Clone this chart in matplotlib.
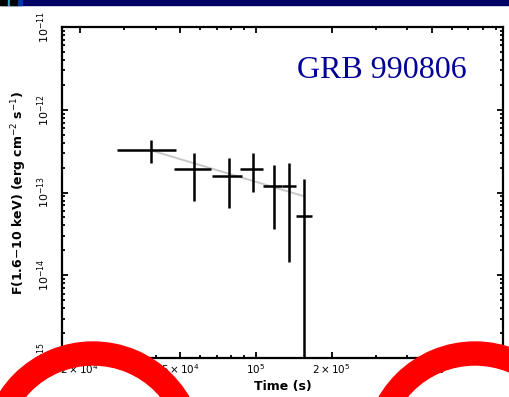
"""GRB 990806 X-ray afterglow light curve, slide-style rendering."""

import matplotlib

matplotlib.use("Agg")
import matplotlib.pyplot as plt
import numpy as np
from matplotlib.patches import Rectangle, Wedge
from matplotlib.ticker import FixedFormatter, FixedLocator, LogLocator, NullFormatter

# light curve bins (time in s, flux in erg cm^-2 s^-1)
t_mid = [3.83e4, 5.67e4, 7.81e4, 9.73e4, 1.18e5, 1.35e5, 1.56e5]
t_lo = [2.81e4, 4.73e4, 6.69e4, 8.64e4, 1.07e5, 1.27e5, 1.45e5]
t_hi = [4.82e4, 6.63e4, 8.80e4, 1.07e5, 1.27e5, 1.45e5, 1.68e5]
flux = [3.26e-13, 1.92e-13, 1.58e-13, 1.92e-13, 1.20e-13, 1.20e-13, 5.2e-14]
flux_hi = [4.3e-13, 3.0e-13, 2.6e-13, 3.0e-13, 2.15e-13, 2.3e-13, 1.46e-13]
flux_lo = [2.28e-13, 7.9e-14, 6.5e-14, 1.01e-13, 3.6e-14, 1.44e-14, 1e-16]

# power-law fit endpoints
fit_t = [3.9e4, 1.54e5]
fit_f = [3.18e-13, 9.1e-14]

xtick_values = [2e4, 5e4, 1e5, 2e5, 5e5, 1e6]
xtick_labels = [r"$2\times10^4$", r"$5\times10^4$", r"$10^5$",
                r"$2\times10^5$", r"$5\times10^5$", r"$10^6$"]
ytick_values = [1e-15, 1e-14, 1e-13, 1e-12, 1e-11]
ytick_labels = [r"$10^{-15}$", r"$10^{-14}$", r"$10^{-13}$", r"$10^{-12}$", r"$10^{-11}$"]

title = "GRB 990806"

W, H = 510, 397
fig = plt.figure(figsize=(W / 100, H / 100), dpi=100)
ax = fig.add_axes([62 / W, 1 - 358 / H, 441 / W, 331 / H])

t_mid = np.array(t_mid)
flux = np.array(flux)
xerr = [t_mid - np.array(t_lo), np.array(t_hi) - t_mid]
yerr = [flux - np.array(flux_lo), np.array(flux_hi) - flux]

ax.plot(fit_t, fit_f, color="#c8c8c8", lw=1.4, zorder=1)
ax.errorbar(t_mid, flux, xerr=xerr, yerr=yerr, fmt="none", ecolor="black",
            elinewidth=1.8, capsize=0, zorder=2)

ax.set_xscale("log")
ax.set_yscale("log")
ax.set_xlim(1.7e4, 9.6e5)
ax.set_ylim(1e-15, 1e-11)

ax.xaxis.set_major_locator(FixedLocator(xtick_values))
ax.xaxis.set_major_formatter(FixedFormatter(xtick_labels))
ax.xaxis.set_minor_locator(LogLocator(base=10, subs=np.arange(2, 10), numticks=20))
ax.xaxis.set_minor_formatter(NullFormatter())
ax.yaxis.set_major_locator(FixedLocator(ytick_values))
ax.yaxis.set_major_formatter(FixedFormatter(ytick_labels))
ax.yaxis.set_minor_locator(LogLocator(base=10, subs=np.arange(2, 10), numticks=20))
ax.yaxis.set_minor_formatter(NullFormatter())

ax.tick_params(which="both", direction="in", top=True, right=True, width=1.3, colors="black")
ax.tick_params(which="major", length=4.5)
ax.tick_params(which="minor", length=2.5)
ax.tick_params(axis="x", which="major", labelsize=7.5, pad=3)
ax.tick_params(axis="y", which="major", labelsize=8, pad=7, labelrotation=90)
for lbl in ax.get_yticklabels():
    lbl.set_va("center")
for spine in ax.spines.values():
    spine.set_linewidth(1.6)

ax.set_xlabel("Time (s)", fontsize=9, fontweight="bold", labelpad=3)
ax.set_ylabel(r"F(1.6$-$10 keV) (erg cm$^{-2}$ s$^{-1}$)", fontsize=9,
              fontweight="bold", labelpad=5)

ax.text(0.726, 0.87, title, transform=ax.transAxes, ha="center", va="center",
        fontsize=23, color="#000099", family="Liberation Serif")

# slide decoration: header bar and red rings
fig.add_artist(Rectangle((0, 1 - 5 / H), 1, 5 / H, transform=fig.transFigure,
                         color="#000066", zorder=5))
for x0, x1, c in [(0, 8, "black"), (8, 10, "#33aacc"), (10, 18, "black"), (18, 22, "#0033aa")]:
    fig.add_artist(Rectangle((x0 / W, 1 - 5 / H), (x1 - x0) / W, 5 / H,
                             transform=fig.transFigure, color=c, zorder=6))
for cx in (93, 475):
    fig.add_artist(Wedge((cx / 100, (H - 453) / 100), 1.11, 0, 360, width=0.23,
                         transform=fig.dpi_scale_trans, color="#ff0000", zorder=10))

fig.savefig("out.png", dpi=100)
